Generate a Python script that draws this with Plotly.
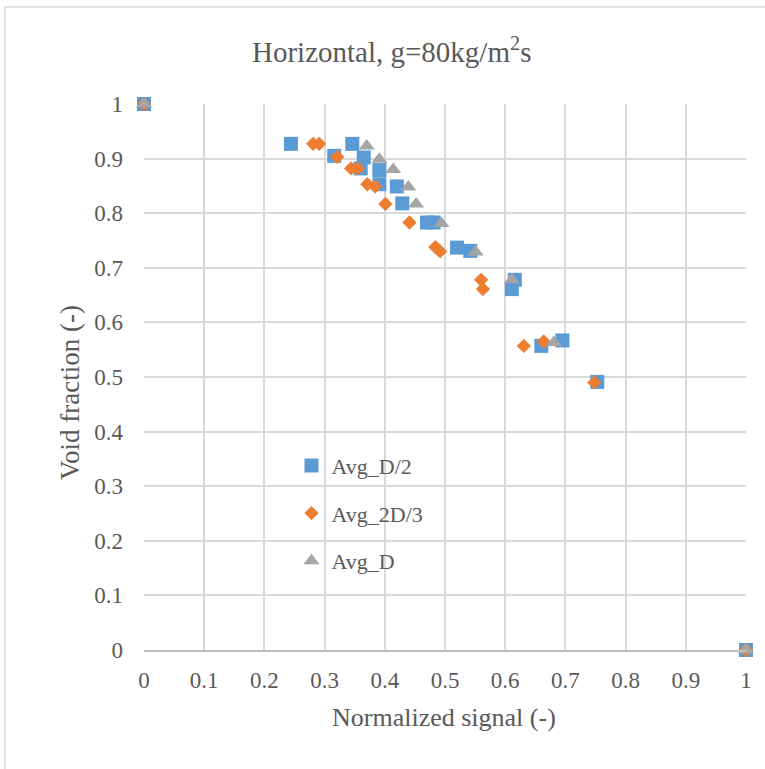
import plotly.graph_objects as go

# Normalized signal (x) and void fraction (y) for each averaging window
d2_x = [0, 0.244, 0.316, 0.346, 0.365, 0.360, 0.391, 0.391, 0.420, 0.429,
        0.470, 0.481, 0.520, 0.542, 0.616, 0.611, 0.660, 0.695, 0.753, 1]
d2_y = [1, 0.927, 0.905, 0.927, 0.902, 0.882, 0.879, 0.853, 0.849, 0.818,
        0.783, 0.783, 0.737, 0.731, 0.678, 0.661, 0.557, 0.567, 0.491, 0]

d23_x = [0, 0.281, 0.291, 0.321, 0.344, 0.355, 0.371, 0.384, 0.401, 0.441,
         0.484, 0.492, 0.560, 0.563, 0.631, 0.664, 0.748, 1]
d23_y = [1, 0.927, 0.927, 0.903, 0.882, 0.882, 0.853, 0.849, 0.817, 0.783,
         0.738, 0.730, 0.678, 0.661, 0.557, 0.565, 0.490, 0]

d_x = [0, 0.370, 0.391, 0.414, 0.439, 0.452, 0.494, 0.551, 0.611, 0.681, 1]
d_y = [1, 0.923, 0.899, 0.880, 0.848, 0.817, 0.781, 0.729, 0.678, 0.563, 0]

tick_vals = [0, 0.1, 0.2, 0.3, 0.4, 0.5, 0.6, 0.7, 0.8, 0.9, 1]
tick_text = ["0", "0.1", "0.2", "0.3", "0.4", "0.5", "0.6", "0.7", "0.8", "0.9", "1"]

FONT = "Liberation Serif"
TXT = "#595959"
GRID = "#d9d9d9"

fig = go.Figure()
fig.add_trace(go.Scatter(x=d2_x, y=d2_y, mode="markers", name="Avg_D/2",
                         legendgroup="a",
                         marker=dict(symbol="square", size=14, color="#5B9BD5"),
                         cliponaxis=False))
fig.add_trace(go.Scatter(x=d23_x, y=d23_y, mode="markers", name="Avg_2D/3",
                         legendgroup="b",
                         marker=dict(symbol="diamond", size=11, color="#ED7D31"),
                         cliponaxis=False))
fig.add_trace(go.Scatter(x=d_x, y=d_y, mode="markers", name="Avg_D",
                         legendgroup="c",
                         marker=dict(symbol="triangle-up", size=14, color="#A5A5A5"),
                         cliponaxis=False))

axis_common = dict(
    range=[0, 1], tickvals=tick_vals, ticktext=tick_text,
    showgrid=True, gridcolor=GRID, gridwidth=1.5, zeroline=False,
    tickfont=dict(family=FONT, size=23, color=TXT), ticks="",
    fixedrange=True,
)

fig.update_layout(
    width=765, height=769,
    margin=dict(l=144, r=19, t=104, b=119),
    paper_bgcolor="white", plot_bgcolor="white",
    showlegend=True,
    legend=dict(x=0.245, y=0.376, xanchor="left", yanchor="top",
                bgcolor="rgba(0,0,0,0)", traceorder="grouped",
                tracegroupgap=16,
                font=dict(family=FONT, size=22, color=TXT)),
    xaxis=dict(**axis_common, showline=True, linecolor="#bfbfbf", linewidth=1.5,
               ticklabelstandoff=9),
    yaxis=dict(**axis_common, showline=False, ticklabelstandoff=20),
    annotations=[
        dict(text="Horizontal, g=80kg/m<sup>2</sup>s", xref="paper", yref="paper",
             x=(391 - 144) / 602, y=(650 - 50) / 546, xanchor="center", yanchor="middle",
             showarrow=False, font=dict(family=FONT, size=29, color=TXT)),
        dict(text="Normalized signal (-)", xref="paper", yref="paper",
             x=(444 - 144) / 602, y=(650 - 717) / 546, xanchor="center", yanchor="middle",
             showarrow=False, font=dict(family=FONT, size=26, color=TXT)),
        dict(text="Void fraction (-)", xref="paper", yref="paper",
             x=(70 - 144) / 602, y=(650 - 393) / 546, xanchor="center", yanchor="middle",
             textangle=-90, showarrow=False, font=dict(family=FONT, size=27, color=TXT)),
    ],
    shapes=[
        dict(type="rect", xref="paper", yref="paper",
             x0=(5 - 144) / 602, x1=1.2, y0=-0.4, y1=(650 - 7) / 546,
             line=dict(color=GRID, width=1.5), layer="below"),
    ],
)

fig.write_html("out.html")
